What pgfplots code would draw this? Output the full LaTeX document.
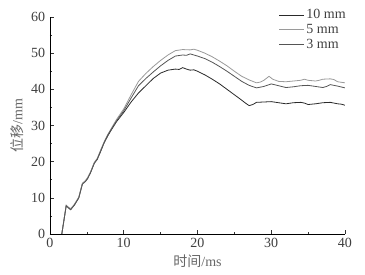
\documentclass[border=0pt]{standalone}
\usepackage{fontspec}
\setmainfont{Liberation Serif}
\newfontfamily\cjk{Noto Sans CJK SC}
\usepackage{pgfplots}
\pgfplotsset{compat=1.18}
\definecolor{c10}{HTML}{2A2A2A}
\definecolor{c5}{HTML}{9A9A9A}
\definecolor{c3}{HTML}{555555}
\begin{document}
\fontsize{14}{16}\selectfont
\begin{tikzpicture}
\path[use as bounding box] (-50pt,-40pt) rectangle (315pt,234pt);
\begin{axis}[
  at={(0pt,0pt)}, anchor=south west,
  scale only axis, width=295pt, height=217pt,
  xmin=0, xmax=40, ymin=0, ymax=60,
  axis lines*=left,
  tick align=inside,
  xtick={0,10,20,30,40}, ytick={0,10,20,30,40,50,60},
  minor tick num=1,
  major tick length=4pt, minor tick length=2.5pt,
  every axis line/.style={line width=0.7pt, black!80},
  every tick/.style={black!80, line width=0.6pt},
  tick label style={font=\fontsize{14}{16}\selectfont, text=black!75},
  xticklabel style={yshift=1pt},
  /pgf/number format/assume math mode=true,
  xlabel={{\cjk 时间}/ms}, ylabel={{\cjk 位移}/mm},
  label style={font=\fontsize{14}{16}\selectfont, text=black!60},
  xlabel style={yshift=2pt},
  ylabel style={yshift=-2pt},
  legend style={draw=none, fill=none, at={(1.02,1.055)}, anchor=north east,
    font=\fontsize{14}{16}\selectfont, row sep=-0.5pt, text=black!75},
  legend cell align=left,
  legend image post style={xscale=1.45},
]
\addplot[c10, line width=0.8pt] coordinates {
(1.6,0) (2.2,7.9) (2.5,7.3) (2.8,6.8) (3.3,8) (3.9,10) (4.4,14) (4.8,14.6) (5.1,15.4) (5.5,17) (6.0,19.6) (6.4,20.6) (6.8,22.5) (7.3,25) (7.8,27) (8.2,28.4) (9,31) (10,33.6)
(11,36.5) (12,39) (13,41) (14,43) (15,44.5) (16,45.3) (17,45.6) (17.5,45.5) (18,46) (18.5,45.6) (19,45.3) (19.5,45.4) (20,45) (21,44) (22,42.8) (23,41.5) (24,40) (25,38.5) (26,37) (26.5,36.2) (27,35.5) (27.5,35.8) (28,36.4) (29,36.5) (30,36.6) (31,36.3) (32,36) (33,36.3) (34,36.4) (34.5,36.2) (35,35.8) (36,36) (37,36.3) (38,36.4) (39,36) (39.5,35.9) (40,35.6)
};
\addplot[c5, line width=0.8pt] coordinates {
(1.6,0) (2.2,7.9) (2.5,7.4) (2.8,7.0) (3.3,8.2) (3.9,10.2) (4.4,14) (4.8,14.8) (5.1,15.6) (5.5,17.2) (6.0,19.8) (6.4,20.9) (6.8,22.9) (7.3,25.3) (7.8,27.4) (8.2,28.8) (9,31.6) (10,34.6)
(11,38.5) (12,42.2) (13,44.4) (14,46.3) (15,48) (16,49.5) (17,50.7) (18,51) (19,50.9) (19.5,51.1) (20,50.8) (21,50) (22,49) (23,47.8) (24,46.5) (25,45) (26,43.6) (27,42.6) (28,41.8) (28.5,42) (29,42.5) (29.7,43.6) (30.2,42.8) (31,42.2) (32,42.1) (33,42.3) (34,42.5) (34.5,42.8) (35,42.5) (36,42.3) (36.5,42.5) (37,42.8) (38,42.9) (38.5,42.7) (39,42.1) (40,41.8)
};
\addplot[c3, line width=0.8pt] coordinates {
(1.6,0) (2.2,7.8) (2.5,7.2) (2.8,6.7) (3.3,8.0) (3.9,10.0) (4.4,13.8) (4.8,14.5) (5.1,15.3) (5.5,17) (6.0,19.5) (6.4,20.7) (6.8,22.6) (7.3,25.1) (7.8,27.2) (8.2,28.6) (9,31.2) (10,34.1)
(11,37.6) (12,41) (13,43) (14,44.8) (15,46.5) (16,48) (17,49.2) (18,49.5) (18.5,49.4) (19,49.8) (20,49.2) (21,48.5) (22,47.5) (23,46.3) (24,45) (25,43.6) (26,42.2) (27,41.1) (28,40.4) (29,40.8) (30,41.5) (31,41) (32,40.5) (33,40.7) (34,41) (35,41.1) (36,40.8) (37,40.5) (37.5,40.8) (38,41.3) (39,40.9) (40,40.4)
};
\legend{10 mm, 5 mm, 3 mm}
\end{axis}
\end{tikzpicture}
\end{document}
